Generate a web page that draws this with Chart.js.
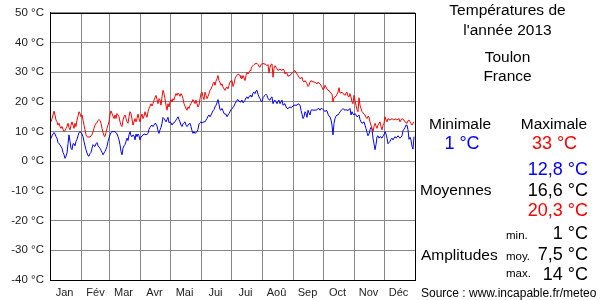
<!DOCTYPE html>
<html><head><meta charset="utf-8">
<script src="https://cdn.jsdelivr.net/npm/chart.js@4/dist/chart.umd.min.js"></script>
<style>
html,body{margin:0;padding:0;background:#fff;}
#wrap{position:relative;width:600px;height:300px;overflow:hidden;font-family:"Liberation Sans",Arial,sans-serif;color:#000;}
#wrap canvas{position:absolute;left:0;top:0;}
.t{position:absolute;white-space:nowrap;line-height:1;}
.c{text-align:center;}
.r{text-align:right;right:12px;}
</style></head><body>
<div id="wrap">
<canvas id="c" width="600" height="300"></canvas>
<div class="t c" style="left:415px;width:185px;top:2.4px;font-size:15.5px">Températures de</div>
<div class="t c" style="left:415px;width:185px;top:21.9px;font-size:15.5px">l'année 2013</div>
<div class="t c" style="left:415px;width:185px;top:49.4px;font-size:15.5px">Toulon</div>
<div class="t c" style="left:415px;width:185px;top:68.4px;font-size:15.5px">France</div>
<div class="t c" style="left:410px;width:100px;top:116.4px;font-size:15.5px">Minimale</div>
<div class="t c" style="left:504px;width:100px;top:116.4px;font-size:15.5px">Maximale</div>
<div class="t c" style="left:412px;width:100px;top:133.7px;font-size:18px;color:#0000ff">1 °C</div>
<div class="t c" style="left:504.5px;width:100px;top:133.7px;font-size:18px;color:#ff0000">33 °C</div>
<div class="t r" style="top:160.2px;font-size:18px;color:#0000ff">12,8 °C</div>
<div class="t" style="left:420px;top:182.4px;font-size:15.5px">Moyennes</div>
<div class="t r" style="top:180.7px;font-size:18px">16,6 °C</div>
<div class="t r" style="top:201.2px;font-size:18px;color:#ff0000">20,3 °C</div>
<div class="t" style="left:506px;top:230.2px;font-size:11.5px">min.</div>
<div class="t r" style="top:224.2px;font-size:18px">1 °C</div>
<div class="t" style="left:421px;top:246.9px;font-size:15.5px">Amplitudes</div>
<div class="t" style="left:506px;top:250.8px;font-size:11.5px">moy.</div>
<div class="t r" style="top:244.7px;font-size:18px">7,5 °C</div>
<div class="t" style="left:506px;top:268.2px;font-size:11.5px">max.</div>
<div class="t r" style="top:264.7px;font-size:18px">14 °C</div>
<div class="t" style="left:421px;top:287.1px;font-size:12px">Source : www.incapable.fr/meteo</div>
</div>
<script>
// Daily maxima (°C), one array per month
const maxJan = [13.0,13.3,14.4,15.6,16.9,15.6,13.9,13.3,12.2,12.8,11.7,11.1,11.7,10.8,10.0,10.3,11.1,11.7,12.8,11.4,10.6,12.2,13.3,12.2,11.1,12.8,11.7,13.9,15.2,16.7,16.1];
const maxFeb = [15.0,15.6,13.9,12.2,10.6,8.9,8.3,8.1,8.3,8.1,8.6,8.9,10.0,11.1,12.2,12.8,13.0,13.7,14.1,13.7,12.8,11.1,9.7,8.6,8.3,9.7,11.1,12.2];
const maxMar = [13.3,15.6,17.0,16.1,15.2,14.4,15.6,14.4,16.1,15.6,15.0,13.3,12.2,11.7,13.9,15.0,15.6,14.4,13.3,12.8,15.0,16.7,16.1,14.2,12.2,13.3,14.4,13.3,14.4,15.9,14.4];
const maxApr = [13.3,15.0,15.9,14.4,15.2,16.7,15.6,14.8,16.7,17.8,18.6,19.4,18.6,19.4,20.6,21.4,22.2,20.8,19.4,21.1,20.6,18.9,21.7,23.9,22.8,21.1,18.9,17.2,19.4,18.3];
const maxMay = [20.0,20.8,20.0,21.1,20.6,21.9,22.8,22.2,23.0,22.6,21.9,22.8,22.2,21.1,19.4,18.6,17.8,17.2,18.3,17.8,18.9,19.4,20.0,20.8,20.0,19.4,20.6,19.4,18.3,18.9,21.1];
const maxJun = [22.8,23.3,21.7,20.8,23.3,22.2,21.1,21.9,22.8,23.9,24.4,25.2,26.1,26.7,25.6,27.0,27.8,28.9,27.2,26.7,25.6,26.1,25.0,24.4,23.9,24.8,25.0,24.4,25.6,26.7];
const maxJul = [27.0,27.2,25.2,26.1,27.8,28.6,28.9,29.4,29.2,28.9,28.1,27.8,28.9,28.1,27.2,28.9,30.0,29.4,30.0,30.6,31.1,31.9,32.2,32.6,32.8,33.0,33.0,32.6,31.9,31.7,32.6];
const maxAug = [32.8,33.0,32.8,32.8,32.6,32.2,32.6,29.7,31.7,32.6,32.8,28.3,31.4,32.2,31.7,31.1,30.6,30.8,31.1,30.8,30.6,31.1,30.8,29.4,30.0,29.7,28.6,28.9,28.9,29.4,29.7];
const maxSep = [30.0,30.3,30.6,30.0,29.4,28.9,28.3,27.8,28.1,28.3,27.0,26.7,27.2,26.7,26.1,25.2,25.6,26.7,27.2,26.9,26.9,26.6,26.7,26.3,26.1,26.7,26.3,26.1,25.6,25.0];
const maxOct = [24.1,24.4,25.6,25.0,24.4,23.9,23.9,23.3,23.0,22.6,20.0,21.4,21.7,21.9,22.6,23.3,24.8,23.0,23.0,23.3,22.8,22.6,22.2,23.0,23.3,21.9,21.7,22.8,21.7,20.0,19.4];
const maxNov = [22.2,20.6,18.9,17.4,16.7,21.4,18.9,17.8,16.7,16.3,15.9,15.6,14.8,14.4,15.2,15.0,13.3,12.2,11.1,10.0,11.7,12.8,11.9,11.1,12.2,12.8,13.3,11.7,10.6,12.2];
const maxDec = [12.8,15.0,13.9,13.3,14.4,14.1,13.9,14.1,14.4,14.1,13.9,14.4,14.1,13.9,14.2,14.4,13.3,13.9,14.4,14.1,13.9,13.3,13.0,12.8,13.7,13.9,13.3,12.8,12.2,12.8,13.3];

// Daily minima (°C), one array per month
const minJan = [7.0,7.8,8.6,9.2,9.7,9.2,8.3,7.8,6.3,5.9,5.6,5.0,4.4,3.0,2.2,1.0,1.7,2.8,5.9,8.9,6.7,4.4,3.9,5.9,5.9,5.2,6.7,7.4,8.6,9.7,10.0];
const minFeb = [9.7,9.2,8.3,6.7,5.2,3.9,2.8,1.9,1.7,2.6,3.0,4.4,5.6,5.2,5.0,5.9,6.3,5.2,4.8,4.4,3.7,3.0,2.2,2.8,3.3,4.1,5.0,6.7];
const minMar = [7.8,8.9,9.7,10.0,10.0,10.0,10.0,9.7,9.2,8.3,7.2,5.6,3.3,2.2,4.4,5.2,5.6,6.7,7.8,7.0,8.9,10.0,8.6,8.3,8.9,8.6,7.2,9.2,8.3,9.2,8.6];
const minApr = [7.2,8.1,8.6,8.9,9.1,9.2,8.9,9.1,9.4,10.8,11.4,11.9,12.2,11.7,12.2,12.8,12.6,11.9,10.3,9.4,10.6,11.4,12.8,14.8,14.4,13.9,13.3,14.1,14.8,13.0];
const minMay = [13.3,13.0,12.2,12.8,13.0,13.3,13.9,14.4,15.0,14.1,13.3,12.2,11.7,12.6,13.0,13.3,12.2,11.7,12.2,12.6,12.8,11.7,10.3,9.4,10.0,9.4,9.7,10.0,10.8,12.6,13.0];
const minJun = [13.3,12.8,13.2,13.3,13.3,13.9,14.4,15.2,15.6,15.0,15.6,16.3,17.0,17.4,18.3,18.9,19.7,20.8,19.2,17.4,17.2,17.8,17.0,16.1,15.9,15.9,15.0,15.6,16.1,16.7];
const minJul = [17.4,17.8,18.1,18.6,19.4,20.0,20.6,20.8,20.3,20.0,20.3,20.6,19.7,20.0,20.6,21.4,21.7,21.1,21.7,22.2,21.9,21.7,23.0,23.3,22.8,23.7,23.9,22.6,21.7,21.1,20.3];
const minAug = [20.0,21.4,21.9,22.2,22.6,22.2,21.1,20.8,20.6,21.4,21.7,19.4,20.3,20.6,20.0,19.4,20.3,20.6,19.4,20.0,20.6,18.9,19.2,19.4,18.3,17.8,17.8,18.1,18.3,18.1,18.3];
const minSep = [18.6,18.9,18.9,18.9,18.9,19.4,19.2,18.9,17.2,15.9,14.4,15.0,16.7,16.1,14.8,17.2,16.3,15.6,17.2,17.4,17.2,17.2,17.3,17.2,17.4,17.7,17.8,17.2,17.8,17.8];
const minOct = [17.4,17.2,16.7,17.2,17.0,15.9,15.2,15.0,13.9,12.2,8.9,12.8,14.4,15.2,15.6,15.6,16.1,16.7,17.0,17.4,17.8,17.4,17.2,17.4,17.2,17.2,17.4,17.8,15.6,16.7,15.9];
const minNov = [15.6,16.1,15.6,15.0,15.2,15.6,14.1,13.3,12.8,13.0,13.3,12.2,11.1,9.7,8.6,9.2,10.6,11.4,10.8,7.8,5.9,3.9,5.6,8.3,8.6,7.8,8.3,8.1,7.8,8.6];
const minDec = [8.9,10.0,9.2,7.8,5.9,6.3,6.7,7.4,7.8,7.2,7.8,8.3,7.8,8.1,8.6,8.1,7.8,8.1,8.6,10.3,10.8,11.4,12.2,12.2,10.6,7.4,8.1,7.2,5.0,4.1,8.3];

const monthLabels = ['Jan','Fév','Mar','Avr','Mai','Jui','Jui','Aoû','Sep','Oct','Nov','Déc'];
const monthStarts = [0,31,59,90,120,151,181,212,243,273,304,334,365];
const yTicks = [-40,-30,-20,-10,0,10,20,30,40,50];

const tmax = [].concat(maxJan,maxFeb,maxMar,maxApr,maxMay,maxJun,maxJul,maxAug,maxSep,maxOct,maxNov,maxDec);
const tmin = [].concat(minJan,minFeb,minMar,minApr,minMay,minJun,minJul,minAug,minSep,minOct,minNov,minDec);
const toPts = a => a.map((v,i)=>({x:i,y:v}));

const frame = {
  id:'frame',
  afterDraw(chart){
    const {ctx, chartArea:a} = chart;
    ctx.save();
    ctx.strokeStyle = '#000';
    ctx.lineWidth = 1;
    ctx.strokeRect(Math.round(a.left)+0.5, Math.round(a.top)+0.5, Math.round(a.right-a.left), Math.round(a.bottom-a.top));
    ctx.restore();
  }
};

Chart.defaults.font.family = '"Liberation Sans", Arial, sans-serif';
Chart.defaults.color = '#222';

new Chart(document.getElementById('c'), {
  type:'line',
  data:{datasets:[
    {data:toPts(tmax), borderColor:'#ff0000', borderWidth:1, pointRadius:0, tension:0, fill:false},
    {data:toPts(tmin), borderColor:'#0000ff', borderWidth:1, pointRadius:0, tension:0, fill:false}
  ]},
  options:{
    responsive:false, animation:false, devicePixelRatio:1,
    layout:{padding:{left:0,right:185,top:10,bottom:0}},
    plugins:{legend:{display:false}, tooltip:{enabled:false}},
    scales:{
      x:{type:'linear', min:0, max:365,
        afterBuildTicks:s=>{s.ticks = monthStarts.map(v=>({value:v}));},
        afterFit:s=>{s.height = 20;},
        grid:{color:'#888', lineWidth:1, drawTicks:false},
        border:{color:'#000'},
        ticks:{autoSkip:false, maxRotation:0, padding:6, labelOffset:14.5, font:{size:11},
          callback:(v,i)=> monthLabels[i] || ''}
      },
      y:{type:'linear', min:-40, max:50,
        afterBuildTicks:s=>{s.ticks = yTicks.map(v=>({value:v}));},
        afterFit:s=>{s.width = 50;},
        grid:{color:'#888', lineWidth:1, drawTicks:false},
        border:{color:'#000'},
        ticks:{padding:6, font:{size:11.5}, callback:v=> v + ' °C'}
      }
    }
  },
  plugins:[frame]
});
</script>
</body></html>
